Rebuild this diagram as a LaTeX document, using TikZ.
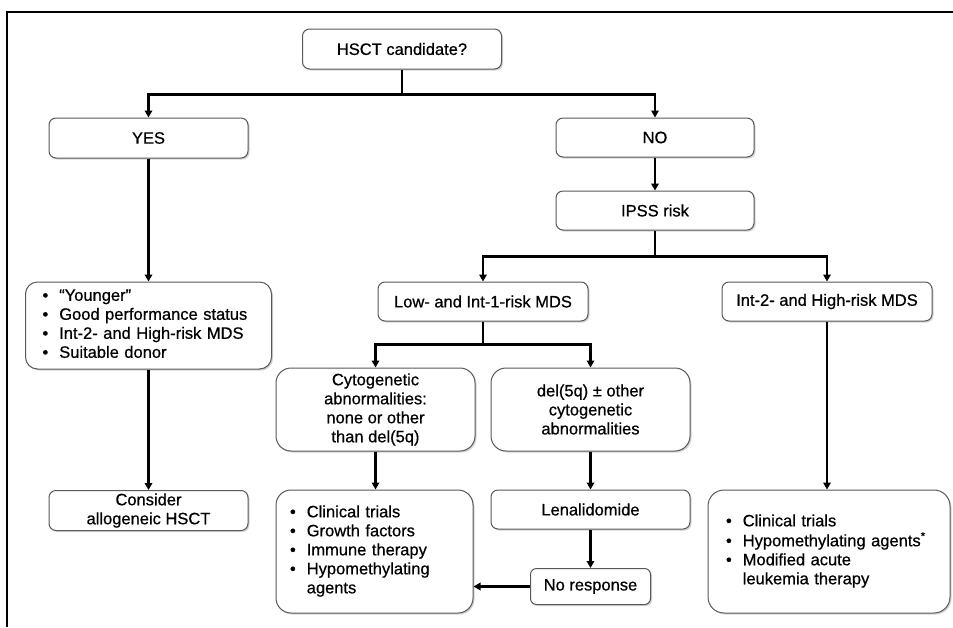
\documentclass[tikz,border=0pt]{standalone}
\usepackage{fontspec}
\setmainfont{Liberation Sans}[FakeBold=0.6]
\usetikzlibrary{arrows.meta,shadows}

\newcommand{\bullist}[1]{\begin{tabular}{@{}l@{\hspace{11pt}}l@{}}#1\end{tabular}}

\begin{document}
\begin{tikzpicture}[x=1pt, y=-1pt,
    box/.style={draw=black!65, line width=1pt, rounded corners=7pt, fill=white,
        align=center, inner sep=0pt, font=\fontsize{16.5}{19}\selectfont,
        drop shadow={shadow xshift=1.5pt, shadow yshift=-1.5pt, fill=black!35}},
    arr/.style={line width=2.5pt, -{Triangle[length=7pt,width=7.5pt]}}]
    \useasboundingbox (0,0) rectangle (953,627);
    \draw[line width=1.4pt] (7,627) -- (7,12) -- (953,12);

    \node[box, minimum width=199, minimum height=40] (hsct) at (402,49) {HSCT candidate?};
    \node[box, minimum width=199, minimum height=40] (yes) at (148.5,138) {YES};
    \node[box, minimum width=198, minimum height=39] (no) at (655,137.5) {NO};
    \node[box, minimum width=198, minimum height=39] (ipss) at (655,210.5) {IPSS risk};
    \node[box, minimum width=210, minimum height=39] (low) at (483,301.5) {Low- and Int-1-risk MDS};
    \node[box, minimum width=210, minimum height=39] (high) at (827,301.5) {Int-2- and High-risk MDS};
    \node[box, rounded corners=12pt, minimum height=87, text width=212, inner xsep=17, align=left]
        (crit) at (148.5,325.5) {\bullist{\textbullet & “Younger”\\ \textbullet & Good performance status\\
        \textbullet & Int-2- and High-risk MDS\\ \textbullet & Suitable donor}};
    \node[box, minimum width=199, minimum height=40] (allo) at (148.5,510.5) {Consider\\ allogeneic HSCT};
    \node[box, rounded corners=15pt, minimum width=199, minimum height=83] (cyto) at (375.5,409.5)
        {Cytogenetic\\ abnormalities:\\ none or other\\ than del(5q)};
    \node[box, rounded corners=15pt, minimum width=199, minimum height=83] (del) at (590.5,409.5)
        {del(5q) ± other\\ cytogenetic\\ abnormalities};
    \node[box, rounded corners=15pt, minimum height=123, text width=169, inner xsep=14, align=left]
        (trials) at (374.5,551.5) {\bullist{\textbullet & Clinical trials\\ \textbullet & Growth factors\\
        \textbullet & Immune therapy\\ \textbullet & Hypomethylating\\ & agents}};
    \node[box, minimum width=199, minimum height=39] (lena) at (590.5,509.5) {Lenalidomide};
    \node[box, rounded corners=6pt, minimum width=120, minimum height=36] (nores) at (590.5,586.5) {No response};
    \node[box, rounded corners=16pt, minimum height=123, text width=206, inner xsep=18, align=left]
        (therapy) at (829,551.5) {\bullist{\textbullet & Clinical trials\\
        \textbullet & Hypomethylating agents\textsuperscript{*}\\
        \textbullet & Modified acute\\ & leukemia therapy}};

    \draw[arr] (hsct.south) -- ++(0,25) -| (yes.north);
    \draw[arr] (hsct.south) -- ++(0,25) -| (no.north);
    \draw[arr] (no) -- (ipss);
    \draw[arr] (ipss.south) -- ++(0,26) -| (low.north);
    \draw[arr] (ipss.south) -- ++(0,26) -| (high.north);
    \draw[arr] (yes) -- (crit);
    \draw[arr] (crit) -- (allo);
    \draw[arr] (low.south) -- ++(0,23) -| (cyto.north);
    \draw[arr] (low.south) -- ++(0,23) -| (del.north);
    \draw[arr] (cyto.south) -- (cyto.south |- trials.north);
    \draw[arr] (del) -- (lena);
    \draw[arr] (lena) -- (nores);
    \draw[arr] (nores.west) -- (nores.west -| trials.east);
    \draw[arr] (high.south) -- (high.south |- therapy.north);
\end{tikzpicture}
\end{document}
